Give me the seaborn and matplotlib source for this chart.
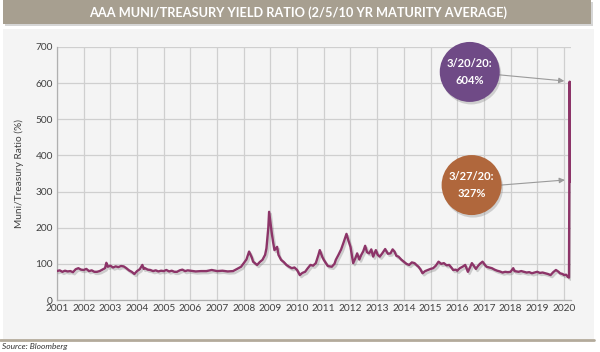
import numpy as np
import pandas as pd
import matplotlib
matplotlib.use("Agg")
import matplotlib.pyplot as plt
import matplotlib.patches as mpatches
import matplotlib.patheffects as pe
import seaborn as sns

# ---- data ----
dates = [2001.00, 2001.10, 2001.20, 2001.30, 2001.40, 2001.50, 2001.60, 2001.70, 2001.80, 2001.90,
         2002.00, 2002.10, 2002.20, 2002.30, 2002.40, 2002.50, 2002.60, 2002.70, 2002.80, 2002.85,
         2002.90, 2003.00, 2003.10, 2003.20, 2003.30, 2003.40, 2003.50, 2003.60, 2003.70, 2003.80,
         2003.90, 2004.00, 2004.10, 2004.20, 2004.25, 2004.30, 2004.40, 2004.50, 2004.60, 2004.70,
         2004.80, 2004.90, 2005.00, 2005.10, 2005.20, 2005.30, 2005.40, 2005.50, 2005.60, 2005.70,
         2005.80, 2005.90, 2006.00, 2006.20, 2006.40, 2006.60, 2006.80, 2007.00, 2007.20, 2007.40,
         2007.60, 2007.70, 2007.80, 2007.90, 2008.00, 2008.10, 2008.20, 2008.30, 2008.35, 2008.45,
         2008.50, 2008.60, 2008.70, 2008.80, 2008.85, 2008.92, 2008.95, 2009.00, 2009.05, 2009.10,
         2009.15, 2009.25, 2009.30, 2009.40, 2009.50, 2009.60, 2009.70, 2009.80, 2009.90, 2010.00,
         2010.10, 2010.20, 2010.30, 2010.40, 2010.50, 2010.60, 2010.70, 2010.80, 2010.85, 2010.95,
         2011.00, 2011.10, 2011.15, 2011.30, 2011.40, 2011.45, 2011.55, 2011.65, 2011.75, 2011.85,
         2011.92, 2012.00, 2012.10, 2012.18, 2012.25, 2012.33, 2012.40, 2012.48, 2012.55, 2012.62,
         2012.70, 2012.78, 2012.85, 2012.95, 2013.02, 2013.10, 2013.20, 2013.30, 2013.40, 2013.50,
         2013.58, 2013.65, 2013.72, 2013.80, 2013.90, 2014.00, 2014.10, 2014.20, 2014.30, 2014.40,
         2014.50, 2014.55, 2014.62, 2014.70, 2014.80, 2014.90, 2015.00, 2015.10, 2015.20, 2015.30,
         2015.40, 2015.50, 2015.60, 2015.70, 2015.80, 2015.85, 2015.95, 2016.00, 2016.10, 2016.20,
         2016.30, 2016.40, 2016.48, 2016.55, 2016.62, 2016.70, 2016.78, 2016.85, 2016.95, 2017.05,
         2017.10, 2017.20, 2017.30, 2017.40, 2017.50, 2017.60, 2017.70, 2017.80, 2017.90, 2018.00,
         2018.10, 2018.15, 2018.30, 2018.40, 2018.50, 2018.60, 2018.70, 2018.80, 2018.90, 2019.00,
         2019.10, 2019.20, 2019.30, 2019.40, 2019.50, 2019.60, 2019.70, 2019.80, 2019.85, 2019.95,
         2020.00, 2020.08, 2020.15, 2020.19, 2020.215, 2020.235]
ratio = [80, 82, 78, 81, 79, 80, 77, 85, 88, 84,
         83, 86, 80, 82, 78, 78, 80, 84, 88, 103,
         92, 95, 90, 93, 91, 94, 93, 88, 82, 78,
         72, 80, 85, 97, 86, 88, 84, 83, 80, 82,
         79, 81, 80, 83, 79, 81, 78, 78, 82, 84,
         80, 82, 81, 79, 80, 80, 83, 80, 81, 79,
         80, 84, 88, 92, 102, 112, 134, 118, 106, 100,
         97, 105, 111, 125, 143, 200, 244, 215, 185, 160,
         138, 147, 125, 111, 105, 97, 92, 88, 90, 83,
         69, 75, 78, 88, 97, 95, 102, 125, 138, 118,
         111, 100, 94, 92, 100, 111, 125, 140, 161, 183,
         165, 147, 102, 115, 129, 112, 124, 135, 150, 132,
         129, 140, 120, 138, 125, 120, 130, 141, 128, 129,
         140, 134, 122, 120, 112, 106, 100, 97, 104, 102,
         95, 92, 85, 74, 80, 83, 86, 88, 95, 106,
         100, 102, 96, 97, 88, 83, 84, 81, 88, 92,
         97, 78, 90, 102, 95, 86, 94, 100, 106, 96,
         92, 90, 88, 84, 81, 79, 76, 78, 77, 78,
         88, 80, 78, 80, 78, 76, 77, 74, 76, 78,
         75, 76, 74, 72, 69, 77, 83, 78, 74, 72,
         69, 70, 64, 62, 604, 327]

year_ticks = list(range(2001, 2021))
y_ticks = [0, 100, 200, 300, 400, 500, 600, 700]

callouts = [("3/20/20:\n604%", 2020.215, 604, 2016.47, 631, "#6f4a86"),
            ("3/27/20:\n327%", 2020.235, 327, 2016.54, 318, "#b0673c")]

title = "AAA MUNI/TREASURY YIELD RATIO (2/5/10 YR MATURITY AVERAGE)"
ylabel = "Muni/Treasury Ratio (%)"
source = "Source: Bloomberg"

# ---- style ----
sns.set_theme(style="white")
plt.rcParams["font.family"] = ["Lato", "DejaVu Sans"]

W, H = 600, 352
fig = plt.figure(figsize=(W / 100, H / 100), dpi=100)
fig.patch.set_facecolor("white")

def fx(px):
    return px / W

def fy(py):
    return 1 - py / H

# panel background
panel = mpatches.Rectangle((fx(3), fy(339)), fx(591), 310 / H, transform=fig.transFigure,
                           facecolor="#f4f4f4", edgecolor="none", zorder=-2)
fig.patches.append(panel)
# bottom rule
fig.add_artist(plt.Line2D([fx(0), fx(594)], [fy(340), fy(340)], transform=fig.transFigure,
                          color="#b3aa9b", lw=2.0, zorder=-1))
# title banner with shadow
shadow = mpatches.Rectangle((fx(5), fy(26)), fx(588), 24 / H, transform=fig.transFigure,
                            facecolor="#bbbbbb", edgecolor="none", alpha=0.6, zorder=-1)
fig.patches.append(shadow)
banner = mpatches.Rectangle((fx(3), fy(24)), fx(588), 24 / H, transform=fig.transFigure,
                            facecolor="#a79f90", edgecolor="none", zorder=3)
fig.patches.append(banner)
fig.text(fx(298), fy(12.5), title, color="white", fontsize=9.2, fontweight="bold",
         ha="center", va="center", zorder=4)
fig.text(fx(2), fy(347), source, color="#333333", fontsize=6, style="italic",
         ha="left", va="center")

# axes
ax = fig.add_axes([fx(57), fy(300), fx(570.6 - 57), (300 - 47) / H])
ax.set_zorder(1)
ax.set_facecolor("none")
df = pd.DataFrame({"date": dates, "ratio": ratio})
sns.lineplot(data=df, x="date", y="ratio", ax=ax, color="#8c3468", linewidth=1.7,
             estimator=None, sort=False, zorder=5,
             path_effects=[pe.SimpleLineShadow(offset=(1.2, -1.5), alpha=0.25, shadow_color="#555555"),
                           pe.Normal()])

ax.set_xlim(2001, 2020.25)
ax.set_ylim(0, 700)
ax.set_xticks(year_ticks)
ax.set_xticklabels([str(y) for y in year_ticks])
ax.set_yticks(y_ticks)
ax.grid(True, color="#cfcfcf", linewidth=0.9)
ax.set_axisbelow(True)
for s in ["top", "right"]:
    ax.spines[s].set_visible(False)
for s in ["left", "bottom"]:
    ax.spines[s].set_color("#b0b0b0")
    ax.spines[s].set_linewidth(0.9)
ax.tick_params(axis="both", length=0, labelsize=7.3, labelcolor="#404040", pad=3)
ax.set_xlabel("")
ax.set_ylabel(ylabel, fontsize=7.3, color="#404040", labelpad=8)

# callouts
px_per_x = (570.6 - 57) / (2020.25 - 2001)
px_per_y = (300 - 47) / 700
r = 30
for text, x, y, cx, cy, col in callouts:
    cpx = 57 + (cx - 2001) * px_per_x
    cpy = 300 - cy * px_per_y
    sh = mpatches.Ellipse((fx(cpx + 1.5), fy(cpy + 2.5)), 2 * r / W, 2 * r / H,
                          transform=fig.transFigure, facecolor="#888888", alpha=0.35,
                          edgecolor="none", zorder=6)
    fig.patches.append(sh)
    circ = mpatches.Ellipse((fx(cpx), fy(cpy)), 2 * r / W, 2 * r / H,
                            transform=fig.transFigure, facecolor=col, edgecolor="none", zorder=7)
    fig.patches.append(circ)
    fig.text(fx(cpx), fy(cpy), text, color="white", fontsize=8, fontweight="bold",
             ha="center", va="center", linespacing=1.7, zorder=8)
    ax.annotate("", xy=(x - 0.2, y + (2 if y > 500 else 5)), xytext=(cx + 1.1, cy - (8 if y > 500 else 0)),
                arrowprops=dict(arrowstyle="-|>", color="#9a9a9a", lw=0.8,
                                mutation_scale=8, shrinkA=0, shrinkB=0), zorder=9)

fig.savefig("out.png", dpi=100)
